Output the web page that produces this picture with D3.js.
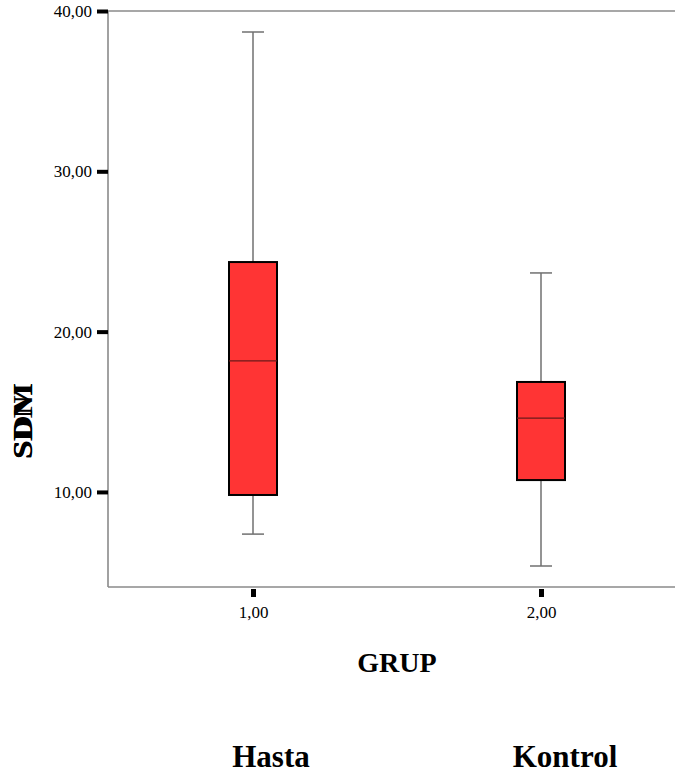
<!DOCTYPE html>
<html>
<head>
<meta charset="utf-8">
<script src="https://cdn.jsdelivr.net/npm/d3@7"></script>
<style>
  body { margin: 0; background: #fff; }
  text { font-family: "Liberation Serif", "Times New Roman", serif; }
</style>
</head>
<body>
<div id="graph_draw"></div>
<script>
// data
var groups = [1, 2];
var groupLabels = ["1,00", "2,00"];
var groupNames = ["Hasta", "Kontrol"];
var whiskerLow = [7.37, 5.38];
var q1 = [9.81, 10.74];
var median = [18.17, 14.61];
var q3 = [24.34, 16.86];
var whiskerHigh = [38.69, 23.66];
var yTicks = [10, 20, 30, 40];

// set the dimensions
var width = 675, height = 773;
var margin = {left: 108, top: 11, bottom: 587, right: 675};

var svg = d3.select("#graph_draw").append("svg")
    .attr("width", width)
    .attr("height", height);

// scales
var y = d3.scaleLinear().domain([4.07, 40]).range([margin.bottom, margin.top]);
var x = d3.scaleLinear().domain([1, 2]).range([253, 541]);

// frame lines (top, left, bottom)
var frame = svg.append("g").attr("stroke", "#8a8a8a").attr("stroke-width", 1.6);
frame.append("line").attr("x1", margin.left).attr("x2", margin.right).attr("y1", margin.top).attr("y2", margin.top);
frame.append("line").attr("x1", margin.left).attr("x2", margin.left).attr("y1", margin.top).attr("y2", margin.bottom);
frame.append("line").attr("x1", margin.left).attr("x2", margin.right).attr("y1", margin.bottom).attr("y2", margin.bottom);

// Y axis
var yAxis = svg.append("g")
    .attr("transform", "translate(" + margin.left + ",0)")
    .call(d3.axisLeft(y).tickValues(yTicks).tickSize(11).tickPadding(5)
        .tickFormat(function(d) { return d3.format(".2f")(d).replace(".", ","); }));
yAxis.select(".domain").remove();
yAxis.selectAll(".tick line").attr("stroke", "#000").attr("stroke-width", 4);
yAxis.selectAll(".tick text").style("font-size", "17px").attr("fill", "#000")
    .style("font-family", "Liberation Serif");

// X axis
var xAxis = svg.append("g")
    .attr("transform", "translate(0," + margin.bottom + ")")
    .call(d3.axisBottom(x).tickValues(groups).tickSize(10).tickPadding(9)
        .tickFormat(function(d, i) { return groupLabels[i]; }));
xAxis.select(".domain").remove();
xAxis.selectAll(".tick line").attr("stroke", "#000").attr("stroke-width", 5)
    .attr("y1", 2);
xAxis.selectAll(".tick text").style("font-size", "17px").attr("fill", "#000")
    .style("font-family", "Liberation Serif");

// boxes
var boxW = 48, capW = 22;
groups.forEach(function(g, i) {
    var cx = x(g);
    var b = svg.append("g");
    // whiskers
    b.append("line").attr("x1", cx).attr("x2", cx)
        .attr("y1", y(whiskerHigh[i])).attr("y2", y(q3[i]))
        .attr("stroke", "#707070").attr("stroke-width", 1.5);
    b.append("line").attr("x1", cx).attr("x2", cx)
        .attr("y1", y(q1[i])).attr("y2", y(whiskerLow[i]))
        .attr("stroke", "#707070").attr("stroke-width", 1.5);
    b.append("line").attr("x1", cx - capW / 2).attr("x2", cx + capW / 2)
        .attr("y1", y(whiskerHigh[i])).attr("y2", y(whiskerHigh[i]))
        .attr("stroke", "#707070").attr("stroke-width", 1.5);
    b.append("line").attr("x1", cx - capW / 2).attr("x2", cx + capW / 2)
        .attr("y1", y(whiskerLow[i])).attr("y2", y(whiskerLow[i]))
        .attr("stroke", "#707070").attr("stroke-width", 1.5);
    // box
    b.append("rect").attr("x", cx - boxW / 2).attr("width", boxW)
        .attr("y", y(q3[i])).attr("height", y(q1[i]) - y(q3[i]))
        .attr("fill", "#ff3434").attr("stroke", "#000").attr("stroke-width", 2);
    // median
    b.append("line").attr("x1", cx - boxW / 2).attr("x2", cx + boxW / 2)
        .attr("y1", y(median[i])).attr("y2", y(median[i]))
        .attr("stroke", "#6a1a1a").attr("stroke-width", 1.2);
});

// axis titles
svg.append("text").attr("x", 397).attr("y", 672)
    .attr("text-anchor", "middle").attr("font-size", 28).attr("font-weight", "bold")
    .text("GRUP");

// overlapping y titles (as in the source image)
["SDM", "SDNI"].forEach(function(t) {
    svg.append("text")
        .attr("transform", "translate(32,421) rotate(-90)")
        .attr("text-anchor", "middle")
        .attr("font-size", 28).attr("font-weight", "bold")
        .attr("textLength", 76).attr("lengthAdjust", "spacingAndGlyphs")
        .text(t);
});

// group names under the chart
groupNames.forEach(function(n, i) {
    svg.append("text").attr("x", x(groups[i]) + (i === 0 ? 18 : 24)).attr("y", 767)
        .attr("text-anchor", "middle").attr("font-size", 31).attr("font-weight", "bold")
        .text(n);
});
</script>
</body>
</html>
